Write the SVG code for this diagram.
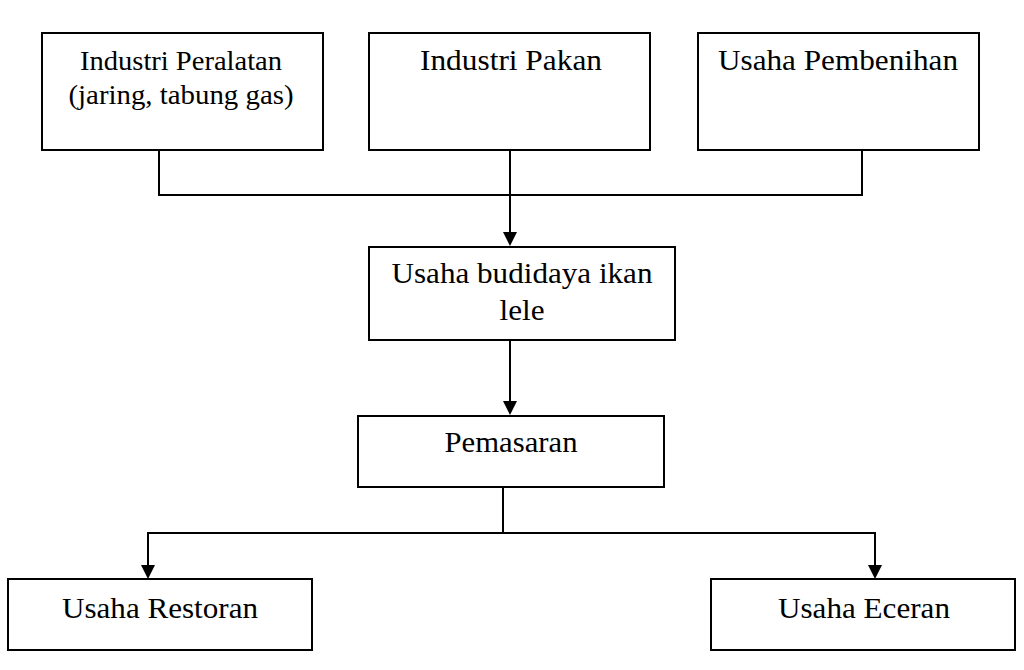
<svg xmlns="http://www.w3.org/2000/svg" width="1024" height="670" viewBox="0 0 1024 670">
<defs>
<style>
.box{fill:#fff;stroke:#000;stroke-width:2}
.t{font-family:"Liberation Serif","Times New Roman",serif;font-size:29px;fill:#000;text-anchor:middle}
.s{font-size:27px}
.c{fill:none;stroke:#000;stroke-width:2}
.a{fill:#000}
</style>
</defs>
<rect width="1024" height="670" fill="#fff"/>
<g id="connectors">
<polyline class="c" points="159,150 159,195 862,195 862,150"/>
<line class="c" x1="510" y1="150" x2="510" y2="234"/>
<path class="a" d="M503,232 L517,232 L510,246 Z"/>
<line class="c" x1="510" y1="340" x2="510" y2="403"/>
<path class="a" d="M503,401 L517,401 L510,415 Z"/>
<polyline class="c" points="503,487 503,533"/>
<polyline class="c" points="148,567 148,533 875,533 875,567"/>
<path class="a" d="M141,565 L155,565 L148,579 Z"/>
<path class="a" d="M868,565 L882,565 L875,579 Z"/>
</g>
<g id="n1"><rect class="box" x="42" y="33" width="281" height="117"/><text class="t s" x="181" y="70" textLength="202" lengthAdjust="spacingAndGlyphs">Industri Peralatan</text><text class="t s" x="181" y="104" textLength="225" lengthAdjust="spacingAndGlyphs">(jaring, tabung gas)</text></g>
<g id="n2"><rect class="box" x="369" y="33" width="281" height="117"/><text class="t" x="511" y="70" textLength="182" lengthAdjust="spacingAndGlyphs">Industri Pakan</text></g>
<g id="n3"><rect class="box" x="698" y="33" width="281" height="117"/><text class="t" x="838" y="70" textLength="240" lengthAdjust="spacingAndGlyphs">Usaha Pembenihan</text></g>
<g id="n4"><rect class="box" x="369" y="247" width="306" height="93"/><text class="t" x="522" y="283" textLength="261" lengthAdjust="spacingAndGlyphs">Usaha budidaya ikan</text><text class="t" x="522" y="320" textLength="45" lengthAdjust="spacingAndGlyphs">lele</text></g>
<g id="n5"><rect class="box" x="358" y="416" width="306" height="71"/><text class="t" x="511" y="452" textLength="133" lengthAdjust="spacingAndGlyphs">Pemasaran</text></g>
<g id="n6"><rect class="box" x="8" y="579" width="304" height="71"/><text class="t" x="160" y="618" textLength="196" lengthAdjust="spacingAndGlyphs">Usaha Restoran</text></g>
<g id="n7"><rect class="box" x="711" y="579" width="304" height="71"/><text class="t" x="864" y="618" textLength="172" lengthAdjust="spacingAndGlyphs">Usaha Eceran</text></g>
</svg>
